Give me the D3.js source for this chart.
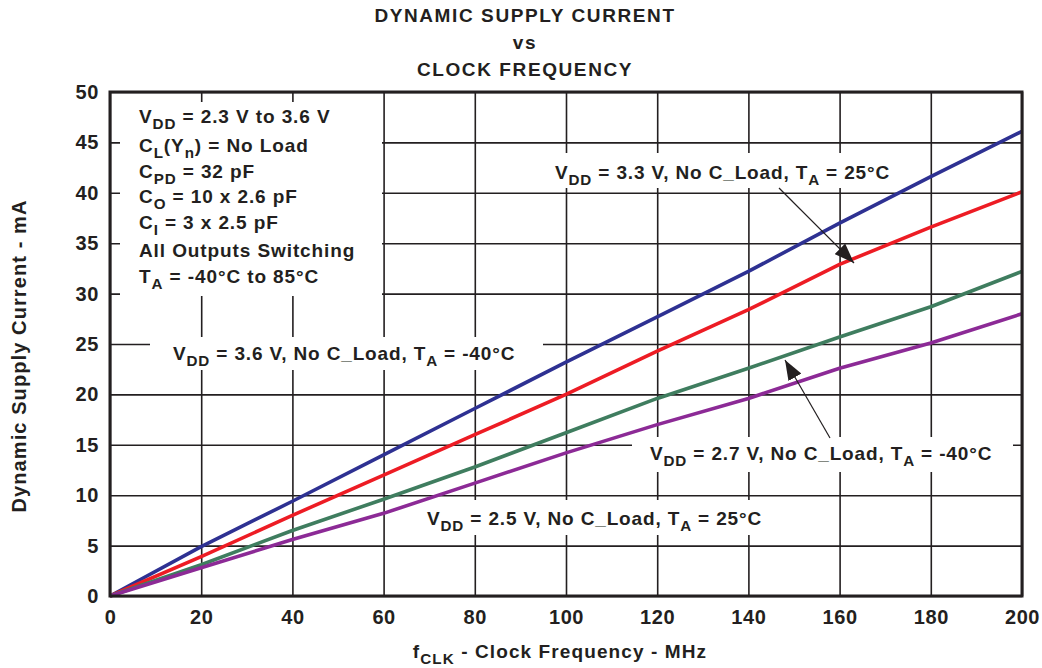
<!DOCTYPE html>
<html>
<head>
<meta charset="utf-8">
<script src="https://cdn.jsdelivr.net/npm/d3@7"></script>
<style>
  body { margin: 0; background: #fff; }
  svg { font-family: "Liberation Sans", Arial, sans-serif; font-weight: bold; }
</style>
</head>
<body>
<svg id="chart" width="1042" height="668"></svg>
<script>
// clock frequency (MHz) and supply current (mA)
const freq = [0, 20, 40, 60, 80, 100, 120, 140, 160, 180, 200];
const vdd36 = [0, 4.9, 9.4, 14.0, 18.6, 23.2, 27.7, 32.2, 37.0, 41.6, 46.1];
const vdd33 = [0, 3.9, 8.0, 12.0, 16.0, 20.0, 24.3, 28.4, 32.9, 36.6, 40.1];
const vdd27 = [0, 3.1, 6.5, 9.6, 12.8, 16.2, 19.6, 22.6, 25.7, 28.7, 32.2];
const vdd25 = [0, 2.8, 5.6, 8.2, 11.2, 14.2, 17.0, 19.6, 22.6, 25.1, 28.0];

const xTicks = [0, 20, 40, 60, 80, 100, 120, 140, 160, 180, 200];
const yTicks = [0, 5, 10, 15, 20, 25, 30, 35, 40, 45, 50];

const series = [
	{ values: vdd36, color: '#2e3192' },
	{ values: vdd33, color: '#ed1c24' },
	{ values: vdd27, color: '#3f7d5f' },
	{ values: vdd25, color: '#8c2a96' }
];

// text pieces: [text, isSubscript]
const condLines = [
	[['V', 0], ['DD', 1], [' = 2.3 V to 3.6 V', 0]],
	[['C', 0], ['L', 1], ['(Y', 0], ['n', 1], [') = No Load', 0]],
	[['C', 0], ['PD', 1], [' = 32 pF', 0]],
	[['C', 0], ['O', 1], [' = 10 x 2.6 pF', 0]],
	[['C', 0], ['I', 1], [' = 3 x 2.5 pF', 0]],
	[['All Outputs Switching', 0]],
	[['T', 0], ['A', 1], [' = -40°C to 85°C', 0]]
];
const condBase = [123, 152, 178, 203, 229, 257, 283];

const margin = { top: 92, right: 20, bottom: 72, left: 110 };
const width = 912;
const height = 504;

const svg = d3.select('#chart');
const gridLayer = svg.append('g').attr('transform', `translate(${margin.left}, ${margin.top})`);
const boxLayer = svg.append('g');
const g = svg.append('g').attr('transform', `translate(${margin.left}, ${margin.top})`);

const xScale = d3.scaleLinear().domain([0, 200]).range([0, width]);
const yScale = d3.scaleLinear().domain([0, 50]).range([height, 0]);

// grid
gridLayer.append('g')
	.attr('transform', `translate(0, ${height})`)
	.call(d3.axisBottom(xScale).tickValues(xTicks).tickSize(-height).tickFormat(''))
	.call(a => a.select('.domain').remove())
	.selectAll('line').attr('stroke', '#231f20').attr('stroke-width', 1.6);

gridLayer.append('g')
	.call(d3.axisLeft(yScale).tickValues(yTicks).tickSize(-width).tickFormat(''))
	.call(a => a.select('.domain').remove())
	.selectAll('line').attr('stroke', '#231f20').attr('stroke-width', 1.6);

// tick labels
g.append('g')
	.attr('transform', `translate(0, ${height})`)
	.call(d3.axisBottom(xScale).tickValues(xTicks).tickSize(0).tickPadding(14))
	.call(a => a.select('.domain').remove())
	.selectAll('text')
	.attr('font-size', 20).attr('font-family', 'Liberation Sans, Arial, sans-serif')
	.attr('font-weight', 'bold').attr('fill', '#231f20').attr('letter-spacing', 0.6);

g.append('g')
	.call(d3.axisLeft(yScale).tickValues(yTicks).tickSize(0).tickPadding(11))
	.call(a => a.select('.domain').remove())
	.selectAll('text')
	.attr('font-size', 20).attr('font-family', 'Liberation Sans, Arial, sans-serif')
	.attr('font-weight', 'bold').attr('fill', '#231f20').attr('letter-spacing', 0.6);

const richText = (parent, x, y, parts, size, anchor, spacing) => {
	const t = parent.append('text')
		.attr('x', x).attr('y', y)
		.attr('font-size', size)
		.attr('letter-spacing', spacing || 0)
		.attr('fill', '#231f20')
		.attr('text-anchor', anchor || 'start');
	let down = false;
	parts.forEach(([s, sub]) => {
		const span = t.append('tspan').text(s);
		if (sub && !down) {
			span.attr('dy', size * 0.3).attr('font-size', size * 0.8);
			down = true;
		} else if (sub) {
			span.attr('font-size', size * 0.8);
		} else if (down) {
			span.attr('dy', -size * 0.3);
			down = false;
		}
	});
	return t;
};

// white boxes that cut the grid behind the labels
boxLayer.append('rect').attr('x', 120).attr('y', 102).attr('width', 262).attr('height', 194).attr('fill', '#fff');

const curveLabels = [
	{ x: 555, y: 179, box: [546, 153, 360, 35], parts: [['V', 0], ['DD', 1], [' = 3.3 V, No C_Load, T', 0], ['A', 1], [' = 25°C', 0]] },
	{ x: 173, y: 360, box: [150, 337, 393, 33], parts: [['V', 0], ['DD', 1], [' = 3.6 V, No C_Load, T', 0], ['A', 1], [' = -40°C', 0]] },
	{ x: 650, y: 460, box: [632, 437, 381, 35], parts: [['V', 0], ['DD', 1], [' = 2.7 V, No C_Load, T', 0], ['A', 1], [' = -40°C', 0]] },
	{ x: 427, y: 525, box: [410, 500, 380, 35], parts: [['V', 0], ['DD', 1], [' = 2.5 V, No C_Load, T', 0], ['A', 1], [' = 25°C', 0]] }
];

curveLabels.forEach(l => {
	boxLayer.append('rect')
		.attr('x', l.box[0]).attr('y', l.box[1])
		.attr('width', l.box[2]).attr('height', l.box[3])
		.attr('fill', '#fff');
});

// curves
const line = d3.line()
	.x((d, i) => xScale(freq[i]))
	.y(d => yScale(d));

g.selectAll('path.curve')
	.data(series)
	.enter()
	.append('path')
	.attr('class', 'curve')
	.attr('d', d => line(d.values))
	.attr('fill', 'none')
	.attr('stroke', d => d.color)
	.attr('stroke-width', 3.6)
	.attr('stroke-linejoin', 'round');

// frame
g.append('rect')
	.attr('width', width).attr('height', height)
	.attr('fill', 'none')
	.attr('stroke', '#231f20')
	.attr('stroke-width', 3);

// condition block
const cond = svg.append('g');
condLines.forEach((parts, i) => richText(cond, 139, condBase[i], parts, 19, 'start', 0.9));

// curve labels
curveLabels.forEach(l => richText(svg, l.x, l.y, l.parts, 19, 'start', 0.85));

// arrows
const defs = svg.append('defs');
defs.append('marker')
	.attr('id', 'head')
	.attr('viewBox', '0 0 10 10')
	.attr('preserveAspectRatio', 'none')
	.attr('refX', 10).attr('refY', 5)
	.attr('markerWidth', 20).attr('markerHeight', 15)
	.attr('markerUnits', 'userSpaceOnUse')
	.attr('orient', 'auto')
	.append('path')
	.attr('d', 'M0,0 L10,5 L0,10 Z')
	.attr('fill', '#231f20');

const arrows = [
	[779, 188, 854, 263],
	[830, 438, 785, 360]
];
svg.selectAll('line.arrow')
	.data(arrows)
	.enter()
	.append('line')
	.attr('class', 'arrow')
	.attr('x1', d => d[0]).attr('y1', d => d[1])
	.attr('x2', d => d[2]).attr('y2', d => d[3])
	.attr('stroke', '#231f20')
	.attr('stroke-width', 1.2)
	.attr('marker-end', 'url(#head)');

// titles
const title = ['DYNAMIC SUPPLY CURRENT', 'vs', 'CLOCK FREQUENCY'];
const titleY = [22, 49, 76];
svg.selectAll('text.title')
	.data(title)
	.enter()
	.append('text')
	.attr('class', 'title')
	.attr('x', 525)
	.attr('y', (d, i) => titleY[i])
	.attr('text-anchor', 'middle')
	.attr('font-size', 19)
	.attr('letter-spacing', 1.6)
	.attr('fill', '#231f20')
	.text(d => d);

richText(svg, 560, 658, [['f', 0], ['CLK', 1], [' - Clock Frequency - MHz', 0]], 19, 'middle', 1.1);

svg.append('text')
	.attr('transform', 'translate(26, 356) rotate(-90)')
	.attr('text-anchor', 'middle')
	.attr('font-size', 20)
	.attr('letter-spacing', 1.1)
	.attr('fill', '#231f20')
	.text('Dynamic Supply Current - mA');
</script>
</body>
</html>
